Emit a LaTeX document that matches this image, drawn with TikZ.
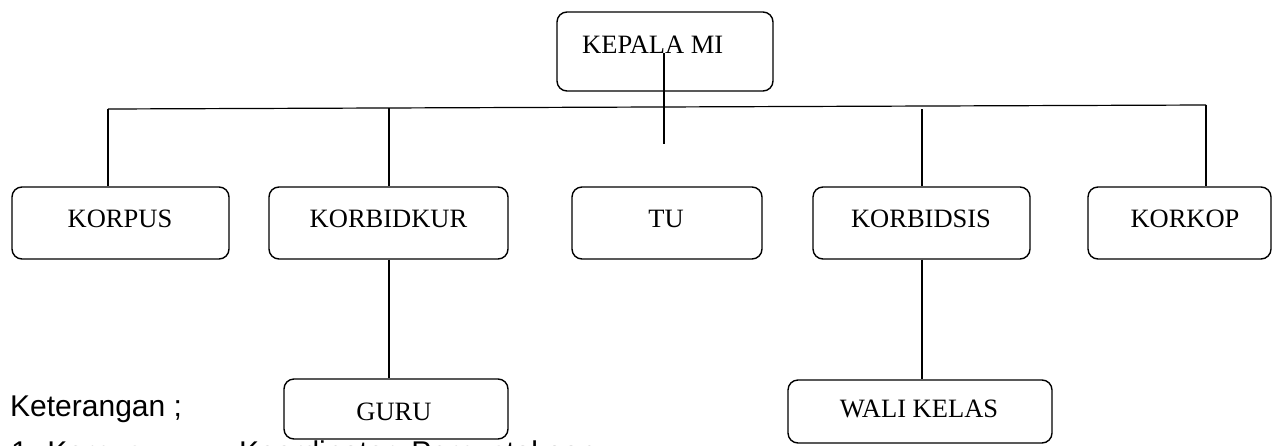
\documentclass[tikz,border=0pt]{standalone}
\usepackage{fontspec}
\setmainfont{Liberation Serif}
\newfontfamily\arialfont{Liberation Sans}
\begin{document}
\begin{tikzpicture}[x=1pt,y=-1pt,
  box/.style={draw, rounded corners=10pt, line width=1.4pt, inner sep=0pt},
  lbl/.style={inner sep=0pt, anchor=base, font=\fontsize{26.5}{30}\selectfont},
  conn/.style={line width=1.2pt},
  note/.style={inner sep=0pt, anchor=base west, font=\arialfont\fontsize{30}{34}\selectfont}]
\useasboundingbox (0,0) rectangle (1273,445);
\clip (0,0) rectangle (1273,445);

% boxes
\node[box, minimum width=216pt, minimum height=79pt] (kepala) at (665,51.5) {};
\node[box, minimum width=217pt, minimum height=72pt] (korpus) at (120.5,223) {};
\node[box, minimum width=239pt, minimum height=72pt] (korbidkur) at (388.5,223) {};
\node[box, minimum width=190pt, minimum height=72pt] (tu) at (667,223) {};
\node[box, minimum width=217pt, minimum height=72pt] (korbidsis) at (921.5,223) {};
\node[box, minimum width=183pt, minimum height=72pt] (korkop) at (1179.5,223) {};
\node[box, minimum width=224pt, minimum height=60pt] (guru) at (396,409) {};
\node[box, minimum width=264pt, minimum height=63pt] (wali) at (920,411.5) {};

% texts
\node[lbl, anchor=base west] (tkepala) at (582,53) {KEPALA MI};
\node[lbl] (tkorpus) at (120,227) {KORPUS};
\node[lbl] (tkorbidkur) at (388.5,227) {KORBIDKUR};
\node[lbl] (ttu) at (666,227) {TU};
\node[lbl] (tkorbidsis) at (921,227) {KORBIDSIS};
\node[lbl] (tkorkop) at (1185,227) {KORKOP};
\node[lbl] (tguru) at (394,420) {GURU};
\node[lbl] (twali) at (919,417) {WALI KELAS};

\node[note] (ket) at (10,416) {Keterangan ;};
\node[note] (ket1) at (11,462.5) {1. Korpus};
\node[note] (ket1b) at (239,462.5) {Koordinator\hspace{17pt}Perpustakaan};

% connectors
\coordinate (ktop) at (664,53);
\coordinate (kbot) at (664,144);
\coordinate (hl) at (108,109);
\coordinate (hr) at (1206,105);
\coordinate (d2) at (389,108);
\coordinate (d4) at (922,109);
\draw[conn] (ktop) -- (kbot);
\draw[conn] (hl) -- (hr);
\draw[conn] (hl) -- (hl |- korpus.north);
\draw[conn] (d2) -- (d2 |- korbidkur.north);
\draw[conn] (d4) -- (d4 |- korbidsis.north);
\draw[conn] (hr) -- (hr |- korkop.north);
\draw[conn] (korbidkur.south -| d2) -- (d2 |- guru.north);
\draw[conn] (korbidsis.south -| d4) -- (d4 |- wali.north);
\end{tikzpicture}
\end{document}
